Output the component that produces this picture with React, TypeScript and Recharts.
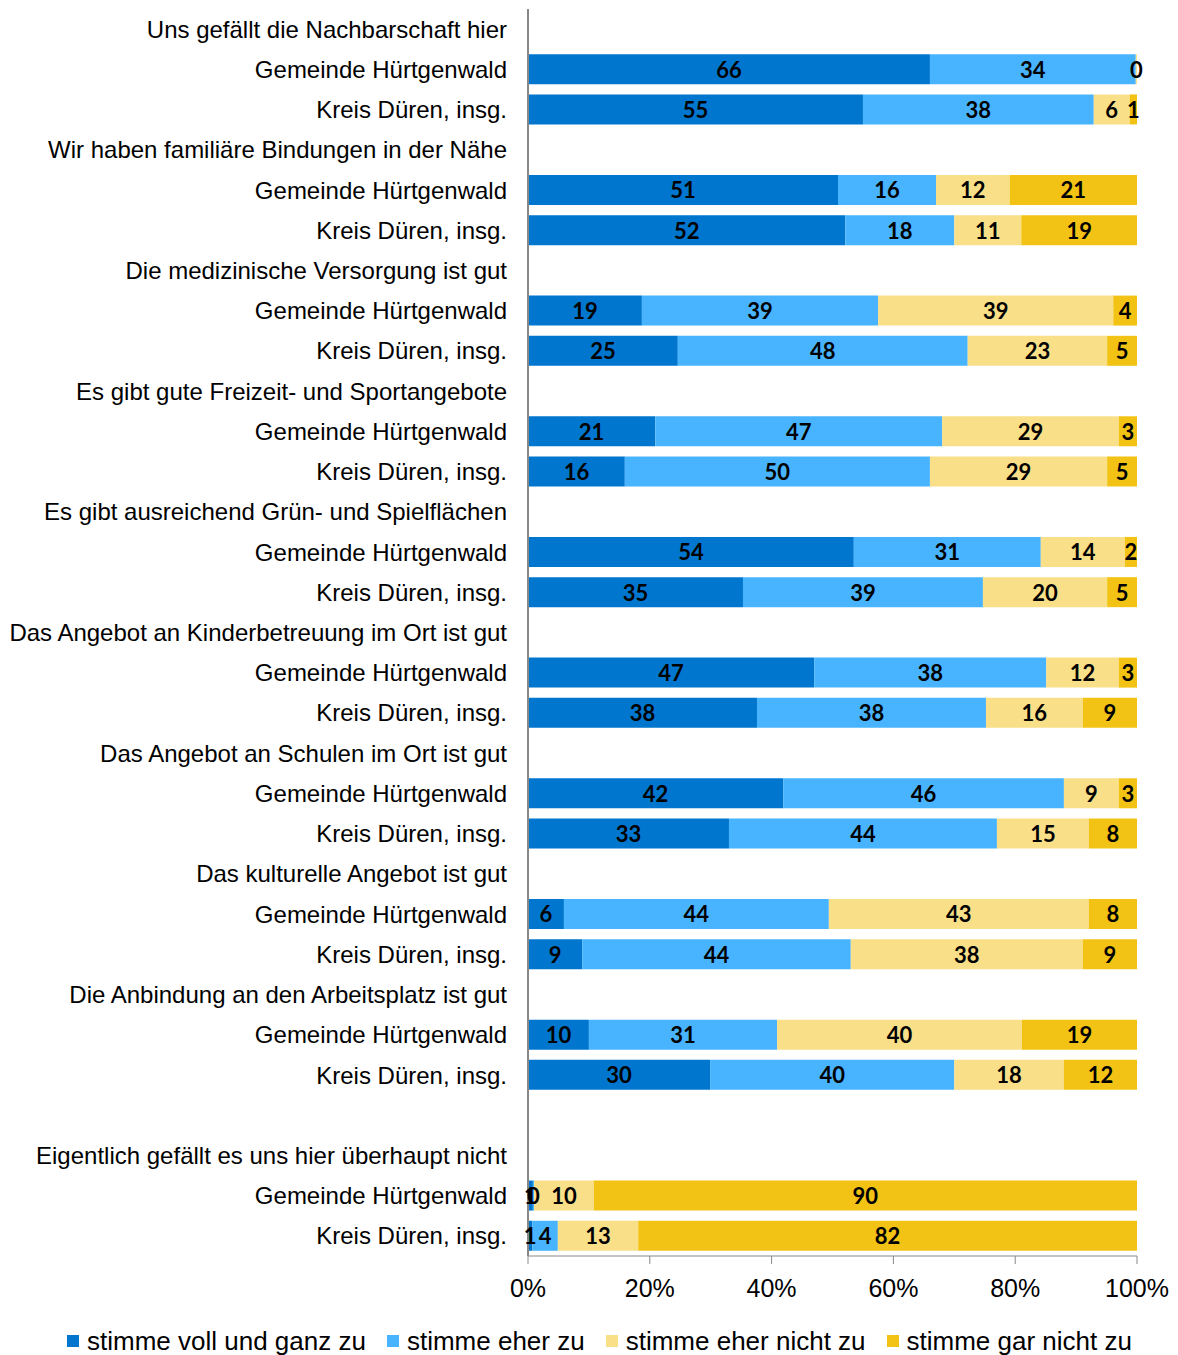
import React from "react";
import { BarChart, Bar, XAxis, YAxis, Legend, LabelList } from "recharts";

const G = "Gemeinde Hürtgenwald";
const K = "Kreis Düren, insg.";

const rowLabels = [
  "Uns gefällt die Nachbarschaft hier", G, K,
  "Wir haben familiäre Bindungen in der Nähe", G, K,
  "Die medizinische Versorgung ist gut", G, K,
  "Es gibt gute Freizeit- und Sportangebote", G, K,
  "Es gibt ausreichend Grün- und Spielflächen", G, K,
  "Das Angebot an Kinderbetreuung im Ort ist gut", G, K,
  "Das Angebot an Schulen im Ort ist gut", G, K,
  "Das kulturelle Angebot ist gut", G, K,
  "Die Anbindung an den Arbeitsplatz ist gut", G, K,
  "",
  "Eigentlich gefällt es uns hier überhaupt nicht", G, K,
];

const vollUndGanz = [null, 66.0, 55.0, null, 50.9, 52.1, null, 18.7, 24.6, null, 20.9, 15.9, null, 53.5, 35.3, null, 47.0, 37.6, null, 41.9, 33.0, null, 5.9, 8.9, null, 10.0, 29.9, null, null, 0.8, 0.7];
const eherZu = [null, 33.8, 37.9, null, 16.1, 17.9, null, 38.8, 47.6, null, 47.1, 50.1, null, 30.7, 39.4, null, 38.1, 37.6, null, 46.1, 44.0, null, 43.5, 44.1, null, 30.9, 40.1, null, null, 0.2, 4.2];
const eherNicht = [null, 0.2, 5.9, null, 12.1, 11.0, null, 38.6, 22.9, null, 29.0, 29.1, null, 13.8, 20.4, null, 11.9, 15.9, null, 9.0, 15.1, null, 42.7, 38.1, null, 40.2, 18.0, null, null, 9.8, 13.2];
const garNicht = [null, 0.0, 1.2, null, 20.9, 19.0, null, 3.9, 4.9, null, 3.0, 4.9, null, 2.0, 4.9, null, 3.0, 8.9, null, 3.0, 7.9, null, 7.9, 8.9, null, 18.9, 12.0, null, null, 89.5, 81.9];

const seriesNames = ["stimme voll und ganz zu", "stimme eher zu", "stimme eher nicht zu", "stimme gar nicht zu"];
const seriesColors = ["#0076CE", "#48B4FF", "#F8DF88", "#F2C314"];
const xTicks = [0, 20, 40, 60, 80, 100];

const data = rowLabels.map((label, i) => ({
  key: String(i),
  label,
  v0: vollUndGanz[i],
  v1: eherZu[i],
  v2: eherNicht[i],
  v3: garNicht[i],
}));

const BarLabel = (props: any) => {
  const { x, y, width, height, value } = props;
  if (value === null || value === undefined) return null;
  return (
    <text
      x={Number(x) + Number(width) / 2}
      y={Number(y) + Number(height) / 2}
      textAnchor="middle"
      dominantBaseline="central"
      fontFamily="Lato, 'Open Sans', sans-serif"
      fontWeight={700}
      fontSize={22}
      fill="#000"
    >
      {Math.round(Number(value))}
    </text>
  );
};

const LegendContent = () => (
  <div
    style={{
      display: "flex",
      justifyContent: "center",
      alignItems: "center",
      height: 28,
      paddingLeft: 54,
      fontFamily: "'Liberation Sans', Arial, sans-serif",
      fontSize: 26,
      color: "#000",
      whiteSpace: "nowrap",
    }}
  >
    {seriesNames.map((n, i) => (
      <div key={n} style={{ display: "flex", alignItems: "center", marginRight: i < 3 ? 21 : 0 }}>
        <span style={{ display: "inline-block", width: 12, height: 12, background: seriesColors[i], marginRight: 8 }} />
        <span style={{ lineHeight: "28px" }}>{n}</span>
      </div>
    ))}
  </div>
);

export default function App() {
  return (
    <BarChart
      width={1170}
      height={1347}
      data={data}
      layout="vertical"
      margin={{ top: 1, right: 41, bottom: 0, left: 0 }}
      barSize={30}
    >
      <XAxis
        type="number"
        domain={[0, 100]}
        allowDataOverflow
        ticks={xTicks}
        tickFormatter={(v: number) => `${v}%`}
        height={71}
        tickSize={8}
        tickMargin={15}
        axisLine={{ stroke: "#888888" }}
        tickLine={{ stroke: "#888888" }}
        tick={{ fontFamily: "'Liberation Sans', Arial, sans-serif", fontSize: 25, fill: "#000" }}
      />
      <YAxis
        type="category"
        dataKey="key"
        width={520}
        interval={0}
        tickFormatter={(v: string) => rowLabels[Number(v)]}
        tickLine={false}
        tickSize={0}
        tickMargin={21}
        axisLine={{ stroke: "#888888", strokeWidth: 2 }}
        tick={{ fontFamily: "'Liberation Sans', Arial, sans-serif", fontSize: 24, fill: "#000" }}
      />
      <Legend verticalAlign="bottom" content={<LegendContent />} />
      {["v0", "v1", "v2", "v3"].map((k, i) => (
        <Bar key={k} dataKey={k} name={seriesNames[i]} stackId="a" fill={seriesColors[i]} isAnimationActive={false}>
          <LabelList dataKey={k} content={<BarLabel />} />
        </Bar>
      ))}
    </BarChart>
  );
}
